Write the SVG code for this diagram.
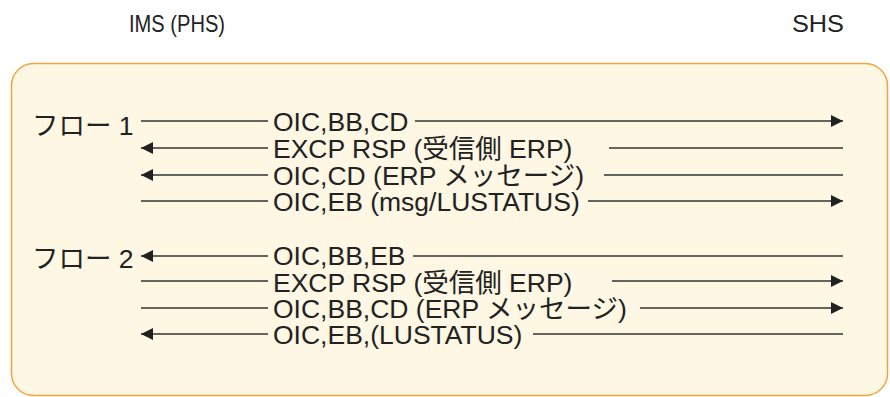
<svg xmlns="http://www.w3.org/2000/svg" width="890" height="397" viewBox="0 0 890 397">
<style>
.t{font-family:"Liberation Sans","Noto Sans CJK JP",sans-serif;font-size:26.5px;fill:#222}
.h{font-family:"Liberation Sans",sans-serif;font-size:24px;fill:#222}
.l{stroke:#333;stroke-width:1.5;fill:none}
</style>
<defs>
<marker id="ah" viewBox="0 0 12 12" refX="12" refY="6" markerWidth="12" markerHeight="12" markerUnits="userSpaceOnUse" orient="auto-start-reverse">
<path d="M0,0 L12,6 L0,12 Z" fill="#222"/>
</marker>
</defs>
<rect width="890" height="397" fill="#fff"/>
<g id="ims"><text class="h" x="129" y="32" textLength="96" lengthAdjust="spacingAndGlyphs">IMS (PHS)</text></g>
<g id="shs"><text class="h" x="792" y="32" textLength="52" lengthAdjust="spacingAndGlyphs">SHS</text></g>
<g id="frame"><rect x="11.5" y="63.5" width="876" height="332" rx="22" fill="#fdf7e4" stroke="#f2a53c" stroke-width="1.5"/></g>
<g id="flow1">
<text class="t" x="32" y="135">フロー 1</text>
</g>
<g id="flow2">
<text class="t" x="32" y="268">フロー 2</text>
</g>
<g id="labels">
<text class="t" x="273" y="131">OIC,BB,CD</text>
<text class="t" x="273" y="158">EXCP RSP (受信側 ERP)</text>
<text class="t" x="273" y="185">OIC,CD (ERP メッセージ)</text>
<text class="t" x="273" y="211">OIC,EB (msg/LUSTATUS)</text>
<text class="t" x="273" y="265">OIC,BB,EB</text>
<text class="t" x="273" y="292">EXCP RSP (受信側 ERP)</text>
<text class="t" x="273" y="318">OIC,BB,CD (ERP メッセージ)</text>
<text class="t" x="273" y="344">OIC,EB,(LUSTATUS)</text>
</g>
<g id="connectors">
<line class="l" x1="141" y1="121" x2="268" y2="121"/>
<line class="l" x1="415" y1="121" x2="843" y2="121" marker-end="url(#ah)"/>
<line class="l" x1="141" y1="148" x2="268" y2="148" marker-start="url(#ah)"/>
<line class="l" x1="609" y1="148" x2="843" y2="148"/>
<line class="l" x1="141" y1="175" x2="268" y2="175" marker-start="url(#ah)"/>
<line class="l" x1="604" y1="175" x2="843" y2="175"/>
<line class="l" x1="141" y1="201" x2="268" y2="201"/>
<line class="l" x1="588" y1="201" x2="843" y2="201" marker-end="url(#ah)"/>
<line class="l" x1="141" y1="256" x2="268" y2="256" marker-start="url(#ah)"/>
<line class="l" x1="413" y1="256" x2="843" y2="256"/>
<line class="l" x1="141" y1="281" x2="268" y2="281"/>
<line class="l" x1="612" y1="281" x2="843" y2="281" marker-end="url(#ah)"/>
<line class="l" x1="141" y1="308" x2="268" y2="308"/>
<line class="l" x1="640" y1="308" x2="843" y2="308" marker-end="url(#ah)"/>
<line class="l" x1="141" y1="334" x2="268" y2="334" marker-start="url(#ah)"/>
<line class="l" x1="533" y1="334" x2="843" y2="334"/>
</g>
</svg>
